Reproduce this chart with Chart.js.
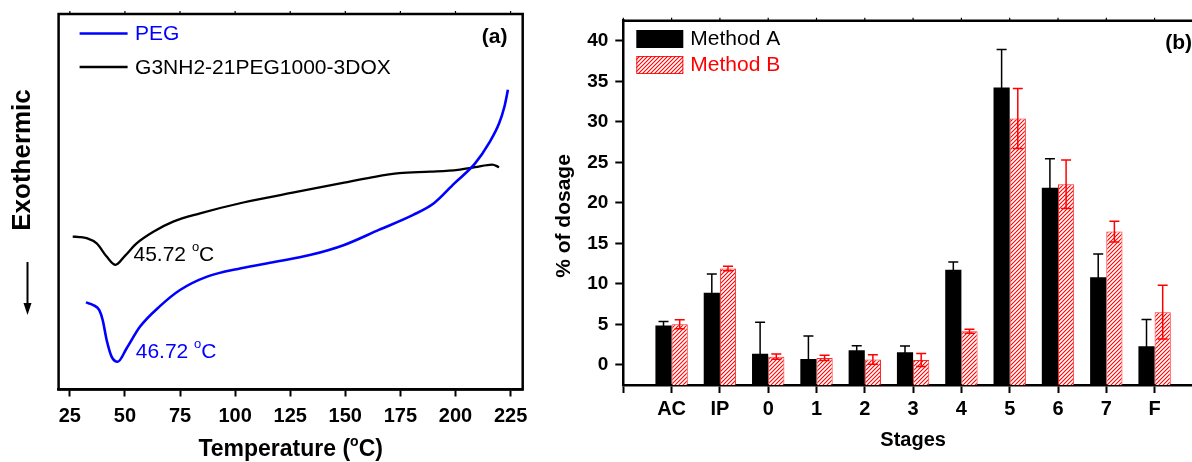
<!DOCTYPE html>
<html lang="en">
<head>
<meta charset="utf-8">
<title>DSC thermograms and stage deposition</title>
<script src="https://cdn.jsdelivr.net/npm/chart.js@4.4.1/dist/chart.umd.min.js"></script>
<style>
  html, body { margin: 0; padding: 0; background: #fff; overflow: hidden; }
  .panel { position: absolute; top: 0; height: 462px; }
  #dscPanel { left: 0; width: 540px; }
  #stagePanel { left: 540px; width: 680px; }
</style>
</head>
<body>
<div class="panel" id="dscPanel"><canvas id="dscChart"></canvas></div>
<div class="panel" id="stagePanel"><canvas id="stageChart"></canvas></div>
<script>
const FONT = '"Liberation Sans", Arial, Helvetica, sans-serif';

// (a) DSC heat flow, arbitrary units, endotherms pointing down
const pegTemp = [32.3, 35.6, 38.3, 39.9, 41.7, 44.0, 46.72, 50.8, 56.8, 65.9, 75.0, 87.0, 102.7, 118.3, 133.9, 149.5, 165.2, 180.8, 190.2, 199.5, 208.9, 215.2, 219.8, 222.2, 223.8];
const pegFlow = [23.2, 22.5, 21.2, 18.5, 13.2, 8.7, 7.4, 11.0, 16.7, 22.2, 26.5, 30.0, 32.3, 34.0, 35.8, 38.5, 42.5, 46.5, 49.6, 54.9, 60.2, 65.6, 70.9, 75.3, 79.8];
const conjTemp = [26.3, 29.5, 32.6, 37.2, 41.7, 45.72, 50.0, 55.3, 62.9, 71.9, 84.1, 103.7, 126.1, 149.5, 162.0, 174.5, 188.6, 201.1, 208.9, 216.7, 219.8];
const conjFlow = [40.7, 40.6, 40.3, 38.9, 35.4, 33.2, 35.6, 38.9, 42.0, 44.7, 46.9, 49.8, 52.4, 55.1, 56.5, 57.6, 58.0, 58.5, 59.2, 59.9, 59.2];
const pegPeak = 46.72;
const conjPeak = 45.72;
const tempTicks = [25, 50, 75, 100, 125, 150, 175, 200, 225];

// (b) deposition per impactor stage, % of dosage (mean and SD)
const stages = ['AC', 'IP', '0', '1', '2', '3', '4', '5', '6', '7', 'F'];
const methodA = [4.85, 8.9, 1.35, 0.7, 1.78, 1.53, 11.75, 34.25, 21.85, 10.8, 2.3];
const methodASd = [0.5, 2.3, 3.9, 2.85, 0.57, 0.78, 0.95, 4.7, 3.6, 2.87, 3.3];
const methodB = [5.0, 11.9, 1.0, 0.85, 0.65, 0.6, 4.15, 30.42, 22.3, 16.45, 6.5];
const methodBSd = [0.55, 0.28, 0.33, 0.33, 0.58, 0.8, 0.25, 3.7, 3.0, 1.28, 3.33];
const dosageTicks = [0, 5, 10, 15, 20, 25, 30, 35, 40];

Chart.defaults.font.family = FONT;
Chart.defaults.color = '#000';

document.addEventListener('DOMContentLoaded', () => {
  drawDscChart();
  drawStageChart();
});

// text with a raised small "o" standing in for the degree sign
function drawDegreeText(ctx, head, tail, x, y, size, bold, align) {
  const weight = bold ? 'bold ' : '';
  const main = `${weight}${size}px ${FONT}`;
  const small = `${weight}${Math.round(size * 0.62)}px ${FONT}`;
  ctx.font = main;
  const w1 = ctx.measureText(head).width;
  const w3 = ctx.measureText(tail).width;
  ctx.font = small;
  const w2 = ctx.measureText('o').width;
  const startX = align === 'center' ? x - (w1 + w2 + w3) / 2 : x;
  ctx.textAlign = 'left';
  ctx.textBaseline = 'middle';
  ctx.font = main;
  ctx.fillText(head, startX, y);
  ctx.font = small;
  ctx.fillText('o', startX + w1, y - size * 0.36);
  ctx.font = main;
  ctx.fillText(tail, startX + w1 + w2, y);
}

function hatchPattern(color) {
  const size = 4;
  const tile = document.createElement('canvas');
  tile.width = size;
  tile.height = size;
  const g = tile.getContext('2d');
  g.fillStyle = '#fff';
  g.fillRect(0, 0, size, size);
  g.strokeStyle = color;
  g.lineWidth = 1.1;
  g.beginPath();
  g.moveTo(0, size); g.lineTo(size, 0);
  g.moveTo(-1, 1); g.lineTo(1, -1);
  g.moveTo(size - 1, size + 1); g.lineTo(size + 1, size - 1);
  g.stroke();
  return g.createPattern(tile, 'repeat');
}

const dscDecor = {
  id: 'dscDecor',
  afterDraw(chart) {
    const { ctx, chartArea: area, scales: { x, y } } = chart;
    ctx.save();

    // frame with short marks above the top edge
    ctx.strokeStyle = '#000';
    ctx.lineWidth = 2.5;
    ctx.strokeRect(area.left, area.top, area.width, area.height);
    ctx.lineWidth = 1.2;
    ctx.beginPath();
    tempTicks.forEach(t => {
      const px = x.getPixelForValue(t);
      ctx.moveTo(px, area.top - 3);
      ctx.lineTo(px, area.top);
    });
    ctx.stroke();

    // legend
    chart.data.datasets.forEach((ds, i) => {
      const rowY = area.top + 19.5 + i * 33.5;
      ctx.strokeStyle = ds.borderColor;
      ctx.lineWidth = 2.5;
      ctx.beginPath();
      ctx.moveTo(area.left + 21, rowY);
      ctx.lineTo(area.left + 69, rowY);
      ctx.stroke();
      ctx.fillStyle = ds.borderColor;
      ctx.font = `21px ${FONT}`;
      ctx.textAlign = 'left';
      ctx.textBaseline = 'middle';
      ctx.fillText(ds.label, area.left + 76.5, rowY + 1);
    });

    // melting peak labels next to each minimum
    chart.data.datasets.forEach(ds => {
      const p = ds.data.find(pt => pt.x === ds.peak);
      const px = x.getPixelForValue(p.x);
      const py = y.getPixelForValue(p.y);
      ctx.fillStyle = ds.borderColor;
      drawDegreeText(ctx, `${ds.peak.toFixed(2)} `, 'C', px + 18, py - 10, 21, false, 'left');
    });

    ctx.fillStyle = '#000';
    ctx.font = `bold 21px ${FONT}`;
    ctx.textAlign = 'center';
    ctx.textBaseline = 'middle';
    ctx.fillText('(a)', area.right - 28, area.top + 23);

    // y label and arrow
    ctx.save();
    ctx.translate(22.5, 160);
    ctx.rotate(-Math.PI / 2);
    ctx.font = `bold 26px ${FONT}`;
    ctx.fillText('Exothermic', 0, 0);
    ctx.restore();
    ctx.lineWidth = 2;
    ctx.beginPath();
    ctx.moveTo(27.5, 262);
    ctx.lineTo(27.5, 306);
    ctx.stroke();
    ctx.beginPath();
    ctx.moveTo(23.5, 303);
    ctx.lineTo(31.5, 303);
    ctx.lineTo(27.5, 315);
    ctx.closePath();
    ctx.fill();

    drawDegreeText(ctx, 'Temperature (', 'C)', (area.left + area.right) / 2, 450, 23, true, 'center');
    ctx.restore();
  }
};

function drawDscChart() {
  const ctx = document.getElementById('dscChart').getContext('2d');
  window.dscChart = new Chart(ctx, {
    type: 'line',
    data: {
      datasets: [{
        label: 'PEG',
        data: pegTemp.map((t, i) => ({ x: t, y: pegFlow[i] })),
        peak: pegPeak,
        borderColor: '#0000ff',
        borderWidth: 2.6,
        pointRadius: 0,
        cubicInterpolationMode: 'monotone'
      }, {
        label: 'G3NH2-21PEG1000-3DOX',
        data: conjTemp.map((t, i) => ({ x: t, y: conjFlow[i] })),
        peak: conjPeak,
        borderColor: '#000000',
        borderWidth: 2.3,
        pointRadius: 0,
        cubicInterpolationMode: 'monotone'
      }]
    },
    options: {
      responsive: true,
      maintainAspectRatio: false,
      animation: false,
      devicePixelRatio: 1,
      events: [],
      layout: { padding: { left: 58.6, top: 14, right: 17.3, bottom: 0 } },
      plugins: { legend: { display: false }, tooltip: { enabled: false } },
      scales: {
        x: {
          type: 'linear',
          min: 19.9,
          max: 230.5,
          afterBuildTicks: scale => { scale.ticks = tempTicks.map(v => ({ value: v })); },
          afterFit: scale => { scale.height = 72.5; },
          grid: { drawOnChartArea: false, tickLength: 7, tickWidth: 2, tickColor: '#000' },
          border: { display: true, color: '#000', width: 2.5 },
          ticks: { font: { size: 20, weight: 'bold' }, padding: 8, autoSkip: false, maxRotation: 0, color: '#000' }
        },
        y: { display: false, min: 0, max: 100 }
      }
    },
    plugins: [dscDecor]
  });
}

const stageDecor = {
  id: 'stageDecor',
  afterDatasetsDraw(chart) {
    const { ctx, scales: { y } } = chart;
    ctx.save();
    chart.data.datasets.forEach((ds, di) => {
      const meta = chart.getDatasetMeta(di);
      ctx.strokeStyle = ds.errorColor;
      ctx.lineWidth = 1.5;
      ctx.beginPath();
      meta.data.forEach((bar, i) => {
        const v = ds.data[i].y;
        const sd = ds.sd[i];
        const top = y.getPixelForValue(v + sd);
        const bottom = y.getPixelForValue(Math.max(v - sd, y.min));
        ctx.moveTo(bar.x, top); ctx.lineTo(bar.x, bottom);
        ctx.moveTo(bar.x - 5, top); ctx.lineTo(bar.x + 5, top);
        ctx.moveTo(bar.x - 5, bottom); ctx.lineTo(bar.x + 5, bottom);
      });
      ctx.stroke();
    });
    ctx.restore();
  },
  afterDraw(chart) {
    const { ctx, chartArea: area, scales: { x } } = chart;
    ctx.save();

    ctx.strokeStyle = '#000';
    ctx.lineWidth = 2.5;
    ctx.beginPath();
    ctx.moveTo(area.left, area.top);
    ctx.lineTo(area.right, area.top);
    ctx.lineTo(area.right, area.bottom);
    ctx.stroke();
    ctx.lineWidth = 1.2;
    ctx.beginPath();
    x.ticks.forEach(t => {
      const px = x.getPixelForValue(t.value);
      ctx.moveTo(px, area.top - 3);
      ctx.lineTo(px, area.top);
    });
    ctx.stroke();

    // legend
    const lx = area.left + 13;
    const ly = area.top + 9.3;
    chart.data.datasets.forEach((ds, i) => {
      const top = ly + i * 26;
      ctx.fillStyle = ds.backgroundColor;
      ctx.fillRect(lx, top, 47, 18);
      if (ds.borderWidth) {
        ctx.strokeStyle = ds.borderColor;
        ctx.lineWidth = 1;
        ctx.strokeRect(lx + 0.5, top + 0.5, 46, 17);
      }
      ctx.fillStyle = ds.errorColor;
      ctx.font = `21px ${FONT}`;
      ctx.textAlign = 'left';
      ctx.textBaseline = 'middle';
      ctx.fillText(ds.label, lx + 54, top + 9.5);
    });

    ctx.fillStyle = '#000';
    ctx.font = `bold 21px ${FONT}`;
    ctx.fillText('(b)', area.left + 542, area.top + 22.5);

    ctx.save();
    ctx.translate(24, 216);
    ctx.rotate(-Math.PI / 2);
    ctx.textAlign = 'center';
    ctx.font = `bold 21px ${FONT}`;
    ctx.fillText('% of dosage', 0, 0);
    ctx.restore();

    ctx.restore();
  }
};

function drawStageChart() {
  const ctx = document.getElementById('stageChart').getContext('2d');
  const yMin = -2.5;
  window.stageChart = new Chart(ctx, {
    type: 'bar',
    data: {
      datasets: [{
        label: 'Method A',
        data: methodA.map((v, i) => ({ x: i + 1, y: v })),
        sd: methodASd,
        base: yMin,
        backgroundColor: '#000000',
        borderWidth: 0,
        errorColor: '#000000'
      }, {
        label: 'Method B',
        data: methodB.map((v, i) => ({ x: i + 1, y: v })),
        sd: methodBSd,
        base: yMin,
        backgroundColor: hatchPattern('#ff0000'),
        borderColor: 'rgba(255, 0, 0, 0.85)',
        borderWidth: 1,
        errorColor: '#ff0000'
      }]
    },
    options: {
      responsive: true,
      maintainAspectRatio: false,
      animation: false,
      devicePixelRatio: 1,
      events: [],
      layout: { padding: { left: 0, top: 20.7, right: 17.1, bottom: 0 } },
      datasets: { bar: { categoryPercentage: 0.67, barPercentage: 1 } },
      plugins: { legend: { display: false }, tooltip: { enabled: false } },
      scales: {
        x: {
          type: 'linear',
          min: 0,
          max: stages.length + 1,
          offset: false,
          z: 1,
          afterBuildTicks: scale => {
            scale.ticks = Array.from({ length: stages.length + 2 }, (_, i) => ({ value: i }));
          },
          afterFit: scale => { scale.height = 77; },
          grid: { offset: false, drawOnChartArea: false, tickLength: 8, tickWidth: 2, tickColor: '#000' },
          border: { display: true, color: '#000', width: 2.5 },
          ticks: {
            font: { size: 20, weight: 'bold' },
            padding: 4,
            autoSkip: false,
            maxRotation: 0,
            color: '#000',
            callback: v => stages[v - 1] || ''
          },
          title: { display: true, text: 'Stages', font: { size: 20, weight: 'bold' }, padding: { top: 0, bottom: 10 }, color: '#000' }
        },
        y: {
          min: yMin,
          max: 42.5,
          z: 1,
          afterBuildTicks: scale => { scale.ticks = dosageTicks.map(v => ({ value: v })); },
          afterFit: scale => { scale.width = 83.3; },
          grid: { drawOnChartArea: false, tickLength: 8, tickWidth: 2, tickColor: '#000' },
          border: { display: true, color: '#000', width: 2.5 },
          ticks: { font: { size: 19, weight: 'bold' }, padding: 7, color: '#000' }
        }
      }
    },
    plugins: [stageDecor]
  });
}
</script>
</body>
</html>
